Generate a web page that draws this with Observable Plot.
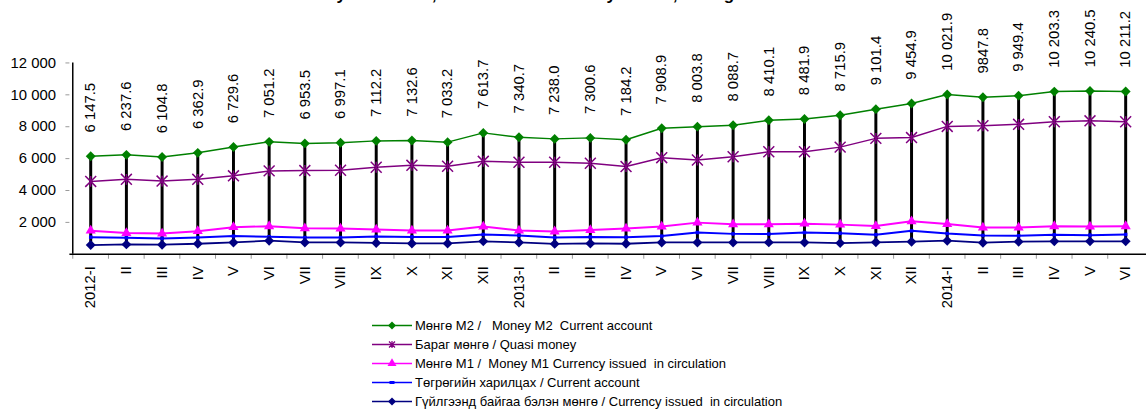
<!DOCTYPE html>
<html><head><meta charset="utf-8">
<script src="https://cdn.jsdelivr.net/npm/d3@7"></script>
<script src="https://cdn.jsdelivr.net/npm/@observablehq/plot@0.6"></script>
<style>
body{margin:0;overflow:hidden;background:#fff;font-family:"Liberation Sans",Arial,sans-serif;}
#wrap{position:relative;width:1146px;height:411px;overflow:hidden;background:#fff;}
#title{position:absolute;left:292px;top:-15px;font-weight:bold;font-size:17px;white-space:nowrap;color:#000;}
#chart{position:absolute;left:0;top:0;}
#legend{position:absolute;left:372px;top:316px;font-size:13px;color:#000;}
.row{height:19px;display:flex;align-items:center;white-space:pre;}
.row svg{margin-right:3px;}
</style></head><body>
<div id="wrap"><div id="chart"></div><div id="title">Money indicators, as of the end of every month, bn tog</div><div id="legend"></div></div>
<script>
const periods = ["2012-I","II","III","IV","V","VI","VII","VIII","IX","X","XI","XII","2013-I","II","III","IV","V","VI","VII","VIII","IX","X","XI","XII","2014-I","II","III","IV","V","VI"];
const m2 = [6147.5,6237.6,6104.8,6362.9,6729.6,7051.2,6953.5,6997.1,7112.2,7132.6,7033.2,7613.7,7340.7,7238.0,7300.6,7184.2,7908.9,8003.8,8088.7,8410.1,8481.9,8715.9,9101.4,9454.9,10021.9,9847.8,9949.4,10203.3,10240.5,10211.2];
const quasi = [4570,4700,4590,4700,4920,5230,5250,5270,5460,5580,5520,5830,5770,5770,5710,5500,6060,5910,6120,6430,6430,6720,7270,7320,8020,8060,8150,8310,8370,8310];
const m1 = [1480,1330,1300,1450,1700,1760,1630,1610,1550,1490,1490,1740,1490,1430,1520,1610,1740,1985,1880,1880,1920,1860,1770,2070,1900,1675,1675,1760,1740,1760];
const current = [1075,1030,990,1050,1140,1100,1050,1050,1120,1090,1090,1240,1180,1050,1090,1075,1140,1365,1280,1270,1365,1320,1230,1470,1300,1180,1160,1220,1200,1240];
const currency = [580,620,600,660,740,850,740,740,710,680,680,810,740,650,680,660,740,743,740,745,740,700,750,790,850,725,790,810,810,810];
const yTicks = [2000,4000,6000,8000,10000,12000];
const seriesNames = ["Мөнгө M2 /   Money M2  Current account","Бараг мөнгө / Quasi money","Мөнгө M1 /  Money M1 Currency issued  in circulation","Төгрөгийн харилцах / Current account","Гүйлгээнд байгаа бэлэн мөнгө / Currency issued  in circulation"];
const colors = ["#008000","#800080","#ff00ff","#0000ff","#000080"];

const fmtSpace = v => d3.format(",.1f")(v).replace(/,/g," ");
const m2Text = m2.map(fmtSpace); m2Text[25] = "9847.8";
const idx = d3.range(periods.length);
const W = 1156, ML = 70;
const bw = (W - ML) / periods.length;

const starSym = {draw(ctx, size){const r = Math.sqrt(size/Math.PI); ctx.moveTo(-r,-r); ctx.lineTo(r,r); ctx.moveTo(-r,r); ctx.lineTo(r,-r); ctx.moveTo(0,-r); ctx.lineTo(0,r);}};

const series = [m2, quasi, m1, current, currency];
const widths = [1.5,1.5,2,2,1.8];

const marks = [
  Plot.axisY({ticks: yTicks, tickFormat: d => d3.format(",")(d).replace(/,/g," "), tickSize: 4, tickPadding: 10, fontSize: 15, stroke: "#999", fill: "#000"}),
  Plot.axisX({ticks: idx, tickSize: 5, tickFormat: () => "", dx: -bw/2, stroke: "#999"}),
  Plot.axisX({ticks: idx, tickSize: 0, tickPadding: 12, tickRotate: -90, fontSize: 15, tickFormat: i => periods[i], fill: "#000"}),
  Plot.ruleY([0], {stroke: "#000", strokeWidth: 1.5}),
  Plot.ruleX([0], {dx: -bw/2, stroke: "#000", strokeWidth: 1.5}),
];
series.forEach((s, k) => marks.push(Plot.line(idx, {x: i => i, y: i => s[i], stroke: colors[k], strokeWidth: widths[k]})));
marks.push(Plot.ruleX(idx, {x: i => i, y1: i => currency[i], y2: i => m2[i], stroke: "#000", strokeWidth: 3}));
marks.push(
  Plot.dot(idx, {x: i => i, y: i => m2[i], symbol: "diamond2", r: 4.5, fill: colors[0], stroke: "none"}),
  Plot.dot(idx, {x: i => i, y: i => quasi[i], symbol: starSym, r: 5.5, stroke: colors[1], strokeWidth: 1.5, fill: "none"}),
  Plot.dot(idx, {x: i => i, y: i => m1[i], symbol: "triangle", r: 3.8, fill: colors[2], stroke: "none"}),
  Plot.dot(idx, {x: i => i, y: i => current[i], symbol: "square", r: 2, fill: colors[3], stroke: "none"}),
  Plot.dot(idx, {x: i => i, y: i => currency[i], symbol: "diamond2", r: 4.5, fill: colors[4], stroke: "none"}),
  Plot.text(idx, {x: i => i, y: i => m2[i], text: i => m2Text[i], rotate: -90, textAnchor: "start", dy: -24, fontSize: 15, fill: "#000"})
);

const chart = Plot.plot({
  width: W, height: 316,
  marginLeft: ML, marginRight: 0, marginTop: 63, marginBottom: 60,
  style: {fontFamily: '"Liberation Sans", Arial, sans-serif', background: "#fff", color: "#000", overflow: "visible"},
  x: {type: "band", domain: idx, padding: 0, label: null},
  y: {domain: [0, 12000], label: null},
  marks
});
document.getElementById("chart").appendChild(chart);

// legend
const leg = document.getElementById("legend");
const legSyms = [d3.symbol(d3.symbolDiamond2, 40)(), null, d3.symbol(d3.symbolTriangle, 35)(), null, d3.symbol(d3.symbolDiamond2, 40)()];
seriesNames.forEach((name, k) => {
  const row = document.createElement("div"); row.className = "row";
  let sym = "";
  if (k === 1) sym = `<path d="M-3,-3L3,3M-3,3L3,-3M0,-3.5L0,3.5" stroke="${colors[k]}" stroke-width="1.2" fill="none"/>`;
  else if (k === 3) sym = `<rect x="-2.5" y="-1.5" width="5" height="3" fill="${colors[k]}"/>`;
  else sym = `<path d="${legSyms[k]}" fill="${colors[k]}"/>`;
  row.innerHTML = `<svg width="40" height="19"><line x1="0" x2="40" y1="9.5" y2="9.5" stroke="${colors[k]}" stroke-width="1.5"/><g transform="translate(20,9.5)">${sym}</g></svg><span>${name}</span>`;
  leg.appendChild(row);
});
</script>
</body></html>
